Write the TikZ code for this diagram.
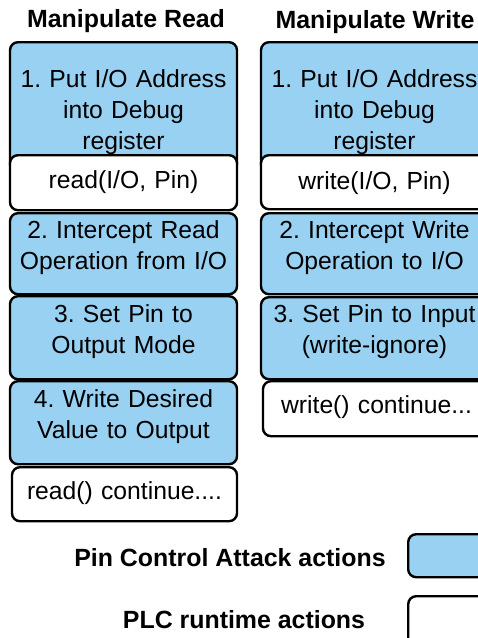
\documentclass[tikz,border=0pt]{standalone}
\usepackage{fontspec}
\setmainfont{Liberation Sans}
\frenchspacing
\definecolor{atkblue}{RGB}{153,209,242}
\tikzset{
	box/.style={draw=black, line width=2.4pt, rounded corners=8pt, anchor=north,
		inner xsep=2pt, inner ysep=0pt, text width=223pt, align=center,
		font=\fontsize{24.7}{31}\selectfont},
	attack/.style={box, fill=atkblue},
	runtime/.style={box, fill=white},
	lines/.style 2 args={text height=#1pt, text depth=#2pt},
	heading/.style={anchor=base, font=\fontsize{24.9}{31}\selectfont\bfseries},
}

\begin{document}
\begin{tikzpicture}[x=1pt, y=-1pt]
		\useasboundingbox (0,0) rectangle (478,638);
		\clip (0,0) rectangle (478,638);
		% manipulate read
		\node[heading] (readtitle) at (126,27.5) {Manipulate Read};
		\node[attack, lines={45}{85}] (rdone) at (123.5,41) {1. Put I/O Address\\into Debug\\register};
		\node[runtime, lines={33}{22}] (rdcall) at (123.5,154) {read(I/O, Pin)};
		\node[attack, lines={25}{56}] (rdtwo) at (123.5,212) {2. Intercept Read\\Operation from I/O};
		\node[attack, lines={26}{57}] (rdthree) at (123.5,295) {3. Set Pin to\\Output Mode};
		\node[attack, lines={26}{57}] (rdfour) at (123.5,380) {4. Write Desired\\Value to Output};
		\node[runtime, lines={32}{22}, text width=221pt] (rdcont) at (124.5,466) {read() continue....};
		% manipulate write
		\node[heading] (writetitle) at (375,28) {Manipulate Write};
		\node[attack, lines={45}{85}] (wrone) at (374.5,41) {1. Put I/O Address\\into Debug\\register};
		\node[runtime, lines={34}{20}] (wrcall) at (374.5,154) {write(I/O, Pin)};
		\node[attack, lines={25}{56}] (wrtwo) at (374.5,212) {2. Intercept Write\\Operation to I/O};
		\node[attack, lines={25}{57}] (wrthree) at (374.5,296) {3. Set Pin to Input\\(write-ignore)};
		\node[runtime, lines={32}{23}] (wrcont) at (376.5,380) {write() continue...};
		% legend
		\node[heading] (legatk) at (230,566) {Pin Control Attack actions};
		\node[attack, lines={43}{0}, anchor=north west] (legatkbox) at (407,533) {};
		\node[heading] (legplc) at (244,628) {PLC runtime actions};
		\node[runtime, lines={50}{0}, anchor=north west] (legplcbox) at (407,595) {};
	\end{tikzpicture}
\end{document}
